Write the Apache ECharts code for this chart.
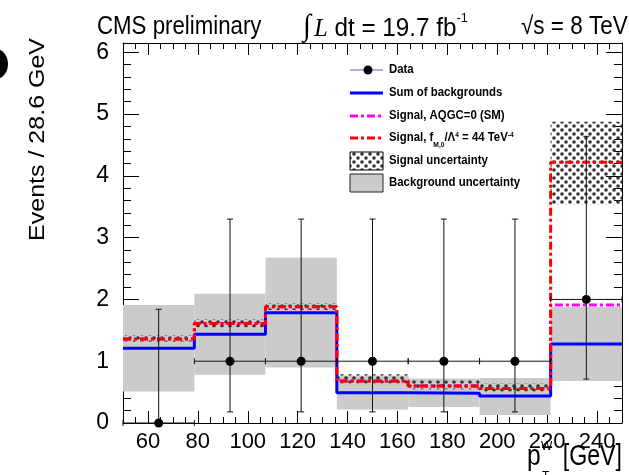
<!DOCTYPE html>
<html><head><meta charset="utf-8">
<script src="https://cdn.jsdelivr.net/npm/echarts@6/dist/echarts.min.js"></script>
<style>html,body{margin:0;padding:0;background:#fff}#c{width:629px;height:475px}</style>
</head><body><div id="c"></div>
<script>
// ---- data ----
const binEdges = [50, 78.6, 107.1, 135.7, 164.3, 192.9, 221.4, 250];
const binCenters = [64.3, 92.9, 121.4, 150.0, 178.6, 207.1, 235.7];
const sumBackgrounds = [1.21, 1.435, 1.785, 0.49, 0.48, 0.437, 1.28];
const signalSM = [1.36, 1.61, 1.88, 0.68, 0.60, 0.56, 1.91];
const signalAQGC = [1.36, 1.61, 1.88, 0.68, 0.60, 0.56, 4.22];
const signalUncLow = [1.32, 1.55, 1.83, 0.64, 0.545, 0.51, 3.54];
const signalUncHigh = [1.42, 1.68, 1.94, 0.79, 0.69, 0.64, 4.875];
const bkgUncLow = [0.51, 0.78, 0.90, 0.22, 0.26, 0.13, 0.68];
const bkgUncHigh = [1.91, 2.09, 2.675, 0.77, 0.72, 0.73, 1.88];
const dataCounts = [0, 1, 1, 1, 1, 1, 2];
const dataErrLow = [0, 0.18, 0.18, 0.18, 0.18, 0.18, 0.71];
const dataErrHigh = [1.84, 3.30, 3.30, 3.30, 3.30, 3.30, 4.64];
const xTickValues = [60, 80, 100, 120, 140, 160, 180, 200, 220, 240];
const yTickValues = [0, 1, 2, 3, 4, 5, 6];

// ---- helpers ----
function stepData(vals) {
  const d = binEdges.slice(0, -1).map((e, i) => [e, vals[i]]);
  d.push([binEdges[binEdges.length - 1], vals[vals.length - 1]]);
  return d;
}
function bandData(lo, hi) {
  return binEdges.slice(0, -1).map((e, i) => [e, binEdges[i + 1], lo[i], hi[i]]);
}
function makeHatch() {
  const c = document.createElement('canvas');
  c.width = 8; c.height = 8;
  const g = c.getContext('2d');
  g.fillStyle = '#333333';
  [[2, 2], [6, 6]].forEach(([x, y]) => { g.beginPath(); g.arc(x, y, 1.8, 0, Math.PI * 2); g.fill(); });
  return c;
}
const hatchCanvas = makeHatch();
const hatchFill = { image: hatchCanvas, repeat: 'repeat' };

function bandRender(fill) {
  return function (params, api) {
    const p0 = api.coord([api.value(0), api.value(3)]);
    const p1 = api.coord([api.value(1), api.value(2)]);
    return { type: 'rect', shape: { x: p0[0], y: p0[1], width: p1[0] - p0[0], height: p1[1] - p0[1] }, style: { fill: fill } };
  };
}
function dataRender(params, api) {
  const x = api.value(0), y = api.value(1), lo = api.value(2), hi = api.value(3), xl = api.value(4), xh = api.value(5);
  const c = api.coord([x, y]), cl = api.coord([x, lo]), ch = api.coord([x, hi]);
  const el = api.coord([xl, y]), eh = api.coord([xh, y]);
  const st = { stroke: '#111', lineWidth: 1 };
  const L = (x1, y1, x2, y2) => ({ type: 'line', shape: { x1, y1, x2, y2 }, style: st });
  return {
    type: 'group', children: [
      L(el[0], c[1], eh[0], c[1]),
      L(el[0], c[1] - 3, el[0], c[1] + 3),
      L(eh[0], c[1] - 3, eh[0], c[1] + 3),
      L(c[0], cl[1], c[0], ch[1]),
      L(c[0] - 3, ch[1], c[0] + 3, ch[1]),
      L(c[0] - 3, cl[1], c[0] + 3, cl[1]),
      { type: 'circle', shape: { cx: c[0], cy: c[1], r: 4.5 }, style: { fill: '#000' } }
    ]
  };
}
const dataPoints = binCenters.map((x, i) => [x, dataCounts[i], dataErrLow[i], dataErrHigh[i], binEdges[i], binEdges[i + 1]]);

const FONT = 'Liberation Sans, Arial, sans-serif';
const black = { color: '#000', width: 1 };
function xAx(pos, major, labels) {
  const a = {
    type: 'value', min: 50, max: 250, position: pos,
    axisLine: { show: major, onZero: false, lineStyle: black },
    axisTick: { show: true, inside: true, length: major ? 12 : 6, lineStyle: black },
    axisLabel: { show: labels, fontSize: 22, color: '#000', fontFamily: FONT, margin: 8 },
    splitLine: { show: false }
  };
  if (major) { a.axisTick.customValues = xTickValues; a.axisLabel.customValues = xTickValues; }
  else { a.interval = 5; }
  return a;
}
function yAx(pos, major, labels) {
  const a = {
    type: 'value', min: 0, max: 6.15, position: pos,
    axisLine: { show: major, onZero: false, lineStyle: black },
    axisTick: { show: true, inside: true, length: major ? 16 : 8, lineStyle: black },
    axisLabel: { show: labels, fontSize: 23, color: '#000', fontFamily: FONT, margin: 14 },
    splitLine: { show: false }
  };
  if (major) { a.axisTick.customValues = yTickValues; a.axisLabel.customValues = yTickValues; }
  else { a.interval = 0.2; }
  return a;
}

function txt(o) {
  const s = Object.assign({ fill: '#000' }, o.style);
  if (s.textAlign) s.align = s.textAlign;
  if (s.textVerticalAlign) s.verticalAlign = s.textVerticalAlign;
  return Object.assign({ type: 'text' }, o, { style: s });
}
const LX0 = 350, LX1 = 383, LT = 389;
const legFont = 'bold 12px ' + FONT;
const legend = [
  { type: 'line', shape: { x1: LX0, y1: 70, x2: LX1, y2: 70 }, style: { stroke: '#9290dc', lineWidth: 1.5 } },
  { type: 'circle', shape: { cx: 368, cy: 70, r: 4.5 }, style: { fill: '#000' } },
  txt({ x: LT, y: 70, scaleX: 0.95, style: { text: 'Data', font: legFont, textAlign: 'left', textVerticalAlign: 'middle' } }),
  { type: 'line', shape: { x1: LX0, y1: 93, x2: LX1, y2: 93 }, style: { stroke: '#0000ff', lineWidth: 3 } },
  txt({ x: LT, y: 93, scaleX: 0.95, style: { text: 'Sum of backgrounds', font: legFont, textAlign: 'left', textVerticalAlign: 'middle' } }),
  { type: 'line', shape: { x1: LX0, y1: 116, x2: LX1, y2: 116 }, style: { stroke: '#ff00ff', lineWidth: 3, lineDash: [8, 3, 3, 3] } },
  txt({ x: LT, y: 116, scaleX: 0.95, style: { text: 'Signal, AQGC=0 (SM)', font: legFont, textAlign: 'left', textVerticalAlign: 'middle' } }),
  { type: 'line', shape: { x1: LX0, y1: 138, x2: LX1, y2: 138 }, style: { stroke: '#ff0000', lineWidth: 3, lineDash: [8, 3, 3, 3] } },
  txt({ x: LT, y: 140, scaleX: 0.95, style: {
    text: '{a|Signal, f}{sub|M,0}{a|/Λ}{sup|4}{a| = 44 TeV}{sup|-4}', textAlign: 'left', textVerticalAlign: 'middle',
    rich: {
      a: { font: legFont, fill: '#000', padding: [0, 0, 5, 0], verticalAlign: 'bottom' },
      sub: { font: 'bold 7px ' + FONT, fill: '#000', verticalAlign: 'bottom' },
      sup: { font: 'bold 7px ' + FONT, fill: '#000', verticalAlign: 'top' }
    } } }),
  { type: 'rect', shape: { x: LX0, y: 152, width: 33, height: 18 }, style: { fill: hatchFill, stroke: '#000', lineWidth: 1 } },
  txt({ x: LT, y: 161, scaleX: 0.95, style: { text: 'Signal uncertainty', font: legFont, textAlign: 'left', textVerticalAlign: 'middle' } }),
  { type: 'rect', shape: { x: LX0, y: 174, width: 33, height: 18 }, style: { fill: '#cbcbcb', stroke: '#222', lineWidth: 1 } },
  txt({ x: LT, y: 183, scaleX: 0.95, style: { text: 'Background uncertainty', font: legFont, textAlign: 'left', textVerticalAlign: 'middle' } })
];

const titleFont = '25px ' + FONT;
const graphics = [
  { type: 'circle', x: -4, y: 64, scaleY: 1.25, shape: { cx: 0, cy: 0, r: 12 }, style: { fill: '#000' } },
  txt({ x: 97, y: 27, scaleX: 0.89, style: { text: 'CMS preliminary', font: titleFont, textAlign: 'left', textVerticalAlign: 'middle' } }),
  txt({ x: 303, y: 27, scaleX: 0.97, style: {
    text: '{int|∫} {it|L}{a| dt = 19.7 fb}{sup|-1}', textAlign: 'left', textVerticalAlign: 'middle',
    rich: {
      int: { font: '300 30px DejaVu Sans', fill: '#000', verticalAlign: 'bottom' },
      it: { font: 'italic 25px Liberation Serif', fill: '#000', verticalAlign: 'bottom' },
      a: { font: titleFont, fill: '#000', verticalAlign: 'bottom' },
      sup: { font: '13px ' + FONT, fill: '#000', verticalAlign: 'top' }
    } } }),
  txt({ x: 521, y: 27, scaleX: 0.9, style: { text: '√s = 8 TeV', font: titleFont, textAlign: 'left', textVerticalAlign: 'middle' } }),
  txt({ x: 49, y: 38, rotation: Math.PI / 2, scaleY: 0.9, style: { text: 'Events / 28.6 GeV', font: '25px ' + FONT, textAlign: 'right', textVerticalAlign: 'bottom' } }),
  txt({ x: 527, y: 457, scaleX: 0.85, style: { text: 'p', font: '29px ' + FONT, textAlign: 'left', textVerticalAlign: 'middle' } }),
  txt({ x: 541, y: 447, style: { text: 'W', font: '12px ' + FONT, textAlign: 'left', textVerticalAlign: 'middle' } }),
  txt({ x: 542, y: 477, style: { text: 'T', font: '12px ' + FONT, textAlign: 'left', textVerticalAlign: 'middle' } }),
  txt({ x: 622, y: 457, scaleX: 0.8, style: { text: '[GeV]', font: '29px ' + FONT, textAlign: 'right', textVerticalAlign: 'middle' } })
].concat(legend);

const chart = echarts.init(document.getElementById('c'), null, { renderer: 'canvas' });
chart.setOption({
  animation: false,
  backgroundColor: '#fff',
  grid: { left: 123, right: 7, top: 43, bottom: 52 },
  xAxis: [xAx('bottom', true, true), xAx('bottom', false, false), xAx('top', true, false), xAx('top', false, false)],
  yAxis: [yAx('left', true, true), yAx('left', false, false), yAx('right', true, false), yAx('right', false, false)],
  series: [
    { name: 'Background uncertainty', type: 'custom', z: 1, renderItem: bandRender('#cbcbcb'), encode: { x: [0, 1], y: [2, 3] }, data: bandData(bkgUncLow, bkgUncHigh) },
    { name: 'Signal uncertainty', type: 'custom', z: 2, renderItem: bandRender(hatchFill), encode: { x: [0, 1], y: [2, 3] }, data: bandData(signalUncLow, signalUncHigh) },
    { name: 'Sum of backgrounds', type: 'line', z: 3, step: 'end', symbol: 'none', lineStyle: { color: '#0000ff', width: 3 }, data: stepData(sumBackgrounds) },
    { name: 'Signal, AQGC=0 (SM)', type: 'line', z: 4, step: 'end', symbol: 'none', lineStyle: { color: '#ff00ff', width: 3, type: [8, 3, 3, 3] }, data: stepData(signalSM) },
    { name: 'Signal, fM,0/Λ4 = 44 TeV-4', type: 'line', z: 5, step: 'end', symbol: 'none', lineStyle: { color: '#ff0000', width: 3, type: [8, 3, 3, 3] }, data: stepData(signalAQGC) },
    { name: 'Data', type: 'custom', z: 6, renderItem: dataRender, encode: { x: 0, y: 1 }, data: dataPoints }
  ],
  graphic: graphics
});
</script></body></html>
